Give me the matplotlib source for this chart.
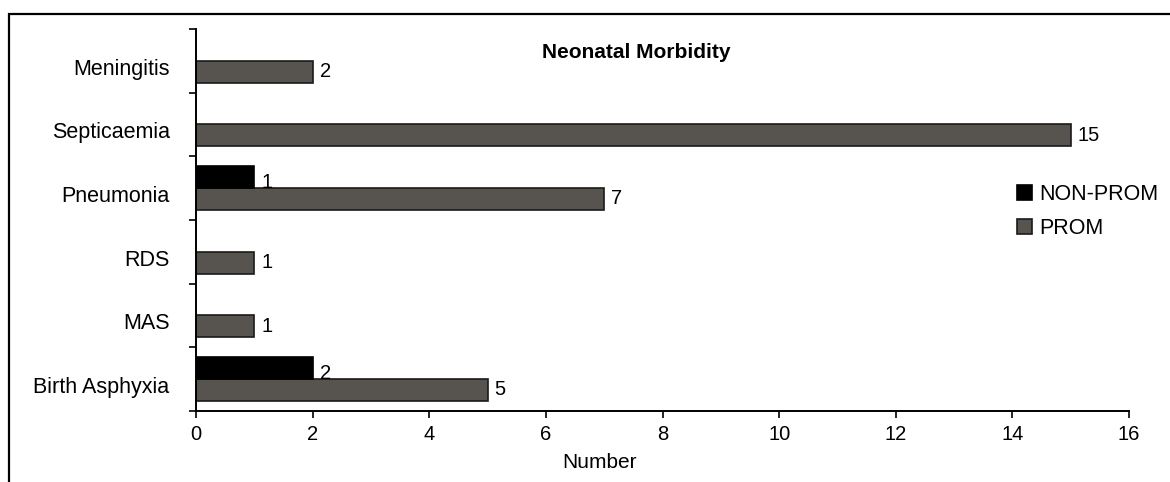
import matplotlib
matplotlib.use("Agg")
import matplotlib.pyplot as plt
from matplotlib.patches import Rectangle
import numpy as np

plt.rcParams['font.family'] = ['Liberation Sans', 'DejaVu Sans']

categories = ['Birth Asphyxia', 'MAS', 'RDS', 'Pneumonia', 'Septicaemia', 'Meningitis']
prom = [5, 1, 1, 7, 15, 2]
nonprom = [2, 0, 0, 1, 0, 0]
xticks = [0, 2, 4, 6, 8, 10, 12, 14, 16]

W, H = 1170, 482
fig = plt.figure(figsize=(W / 100, H / 100), dpi=100)
fig.patch.set_facecolor('white')

# outer frame (left + top visible, runs off right/bottom)
fig.patches.append(Rectangle((8.5 / W, -0.2), 1.3, 1 - 13.5 / H + 0.2,
                             transform=fig.transFigure, fill=False,
                             edgecolor='black', linewidth=1.6))

ax = fig.add_axes([196 / W, 71 / H, 933 / W, 382 / H])

pos = np.arange(len(categories))
bh = 0.344
grey = '#57534f'

ax.barh(pos - 0.17, prom, height=bh, color=grey, edgecolor='#1a1a1a',
        linewidth=1.2, label='PROM', zorder=2)
np_idx = [i for i, v in enumerate(nonprom) if v > 0]
ax.barh(pos[np_idx] + 0.17, [nonprom[i] for i in np_idx], height=bh,
        color='black', edgecolor='black', linewidth=1.2, label='NON-PROM', zorder=2)

for i, v in enumerate(prom):
    ax.annotate(str(v), (v, pos[i] - 0.17), xytext=(5, 0), textcoords='offset points',
                va='center', ha='left', fontsize=14.5)
for i in np_idx:
    ax.annotate(str(nonprom[i]), (nonprom[i], pos[i] + 0.17), xytext=(5, -4),
                textcoords='offset points', va='center', ha='left', fontsize=14.5)

ax.set_xlim(0, 16)
ax.set_ylim(-0.5, len(categories) - 0.5)
ax.set_xticks(xticks)
ax.set_xticklabels([str(t) for t in xticks], fontsize=14.5)
ax.set_yticks(np.arange(len(categories) + 1) - 0.5)
ax.set_yticklabels([])
# category labels sit slightly below the band centre, as in the original
ax.set_yticks(pos - 0.09, minor=True)
ax.set_yticklabels(categories, minor=True, fontsize=15.5)
ax.tick_params(axis='y', which='minor', length=0, pad=19)
ax.tick_params(axis='y', which='major', length=5, width=1.2, direction='out')
ax.tick_params(axis='x', length=5, width=1.2, direction='out', pad=5)

for s in ['top', 'right']:
    ax.spines[s].set_visible(False)
for s in ['left', 'bottom']:
    ax.spines[s].set_linewidth(1.4)

fig.text(636 / W, 1 - 52 / H, 'Neonatal Morbidity', ha='center', va='center',
         fontsize=15, fontweight='bold')
fig.text(600 / W, 1 - 462 / H, 'Number', ha='center', va='center', fontsize=15)

handles, labels = ax.get_legend_handles_labels()
ax.legend(handles[::-1], labels[::-1], loc='upper left',
          bbox_to_anchor=(1017 / W, 1 - 184 / H), bbox_transform=fig.transFigure,
          frameon=False, fontsize=15.5, handlelength=0.7, handleheight=0.7,
          handletextpad=0.35, labelspacing=0.6, borderpad=0, borderaxespad=0)

fig.savefig('out.png', dpi=100)
